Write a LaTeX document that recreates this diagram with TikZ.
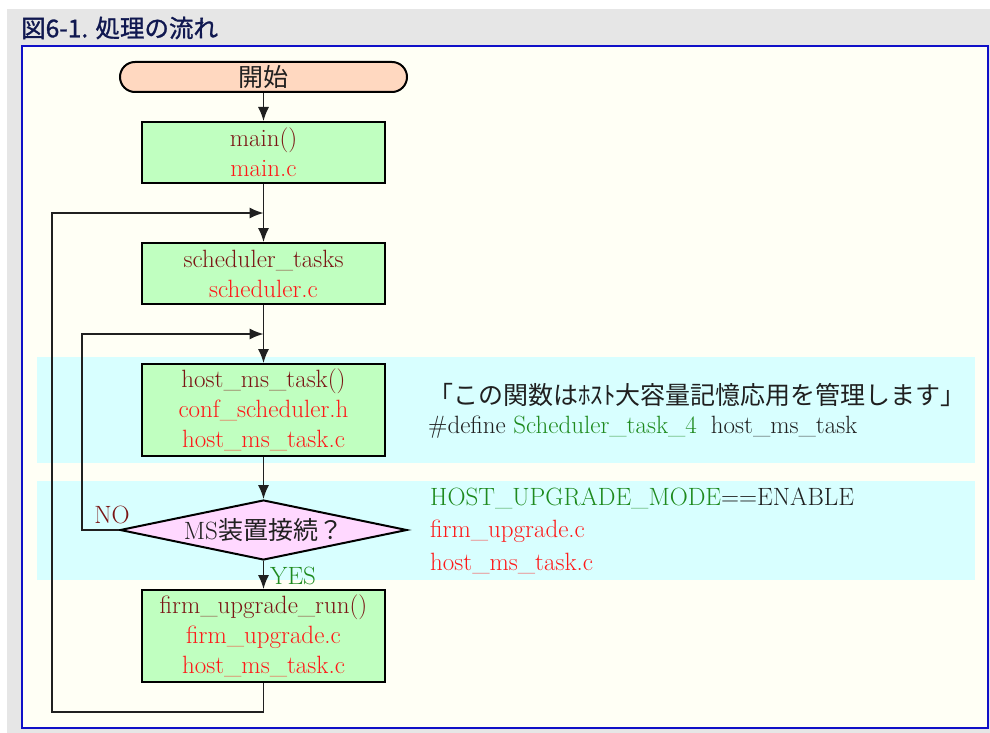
\documentclass[tikz,border=0pt]{standalone}
\usepackage{fontspec}
\usetikzlibrary{shapes.geometric,arrows.meta}
\newfontfamily\jp{Noto Sans CJK JP}
\newfontfamily\jpt[FakeBold=1.2]{Noto Sans CJK JP}
\definecolor{bggray}{HTML}{E6E6E6}
\definecolor{ivory}{HTML}{FFFFF5}
\definecolor{framblue}{HTML}{1010C8}
\definecolor{band}{HTML}{D8FFFF}
\definecolor{boxgreen}{HTML}{C0FFC0}
\definecolor{peach}{HTML}{FFD8C0}
\definecolor{pinkd}{HTML}{FFD8FF}
\definecolor{dred}{HTML}{7A1414}
\definecolor{rred}{HTML}{FF1818}
\definecolor{ggreen}{HTML}{1E8A1E}
\definecolor{ink}{HTML}{202020}
\definecolor{navy}{HTML}{101850}
\begin{document}
\begin{tikzpicture}[x=1pt,y=-1pt,
  txt/.style={font=\fontsize{25}{30}\selectfont, text=ink},
  procbox/.style={draw=black, line width=2pt, fill=boxgreen, minimum width=243, align=center, inner sep=0pt, txt},
  conn/.style={line width=1.4pt, draw=ink},
  arr/.style={conn, -{Latex[length=14pt,width=11pt]}},
  side/.style={anchor=west, inner sep=0pt, txt}
]
\useasboundingbox (0,0) rectangle (990,733);
% backgrounds
\fill[bggray] (7,9) rectangle (990,733);
\draw[framblue, line width=1.5pt, fill=ivory] (22,46) rectangle (988,728);
\fill[band] (37,357) rectangle (975,463);
\fill[band] (37,481) rectangle (975,580);
% title
\node[anchor=west, inner sep=0pt, text=navy, font=\jpt\fontsize{24.5}{26}\selectfont] (title) at (21,28) {図6-1. 処理の流れ};
% nodes
\node[draw=black, line width=2pt, fill=peach, rounded corners=15pt, minimum width=287, minimum height=30, inner sep=0pt, txt] (start) at (263.5,77) {\jp 開始};
\node[procbox, minimum height=61] (main) at (263.5,152.5) {\textcolor{dred}{main()}\\\textcolor{rred}{main.c}};
\node[procbox, minimum height=61] (sched) at (263.5,273.5) {\textcolor{dred}{scheduler\_tasks}\\\textcolor{rred}{scheduler.c}};
\node[procbox, minimum height=92] (host) at (263.5,410) {\textcolor{dred}{host\_ms\_task()}\\\textcolor{rred}{conf\_scheduler.h}\\\textcolor{rred}{host\_ms\_task.c}};
\node[diamond, draw=black, line width=2pt, fill=pinkd, minimum width=287, minimum height=60, inner sep=0pt, txt] (dec) at (263.5,530) {\makebox[0pt]{MS{\jp 装置接続？}}};
\node[procbox, minimum height=92] (firm) at (263.5,636) {\textcolor{dred}{firm\_upgrade\_run()}\\\textcolor{rred}{firm\_upgrade.c}\\\textcolor{rred}{host\_ms\_task.c}};
% labels
\node[txt, text=dred, inner sep=0pt] (nolab) at (112,515) {NO};
\node[txt, text=ggreen, inner sep=0pt, anchor=west] (yeslab) at (270,576) {YES};
% side texts
\node[side] (s1) at (428,395) {\jp 「この関数はﾎｽﾄ大容量記憶応用を管理します」};
\node[side] (s2) at (428,427) {\#define \textcolor{ggreen}{Scheduler\_task\_4}\hspace{14pt}host\_ms\_task};
\node[side] (s3) at (430,498) {\textcolor{ggreen}{HOST\_UPGRADE\_MODE}==ENABLE};
\node[side, text=rred] (s4) at (430,531) {firm\_upgrade.c};
\node[side, text=rred] (s5) at (430,563) {host\_ms\_task.c};
% junctions
\coordinate (j1) at (263.5,213);
\coordinate (j2) at (263.5,334);
% connectors
\draw[arr] (start.south) -- (main.north);
\draw[arr] (main.south) -- (sched.north);
\draw[arr] (sched.south) -- (host.north);
\draw[arr] (host.south) -- (dec.north);
\draw[arr] (dec.south) -- (firm.north);
\draw[arr] (firm.south) -- ++(0,29) -| (52,400) |- (j1);
\draw[arr] (dec.west) -| (82,400) |- (j2);
\end{tikzpicture}
\end{document}
